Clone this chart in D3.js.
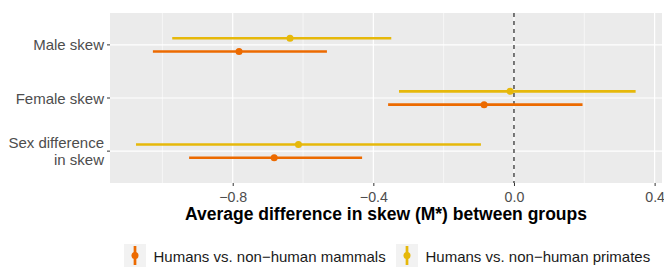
<!DOCTYPE html>
<html>
<head>
<meta charset="utf-8">
<script src="https://d3js.org/d3.v7.min.js"></script>
<style>
  body { margin: 0; background: #fff; }
  svg { font-family: "Liberation Sans", Arial, sans-serif; }
</style>
</head>
<body>
<div id="chart"></div>
<script>
// categories, top to bottom
const categories = ["Male skew", "Female skew", "Sex difference\nin skew"];
const groups = ["Humans vs. non\u2212human mammals", "Humans vs. non\u2212human primates"];
const groupColors = ["#ec6a00", "#e6b80a"];

// estimate, lower, upper for each category
const mammalsEst = [-0.782, -0.085, -0.682];
const mammalsLo = [-1.027, -0.358, -0.924];
const mammalsHi = [-0.532, 0.195, -0.432];

const primatesEst = [-0.637, -0.011, -0.613];
const primatesLo = [-0.972, -0.327, -1.075];
const primatesHi = [-0.349, 0.346, -0.094];

const xTicks = [-0.8, -0.4, 0.0, 0.4];
const xMinor = [-1.0, -0.6, -0.2, 0.2];

const width = 664, height = 267;
const panel = { left: 110, right: 662, top: 13, bottom: 183 };

const svg = d3.select("#chart").append("svg")
  .attr("width", width).attr("height", height);

const x = d3.scaleLinear().domain([-1.149, 0.421]).range([panel.left, panel.right]);
// ggplot-style discrete scale with 0.6 expansion
const y = d3.scaleLinear().domain([0.4, 3.6]).range([panel.top, panel.bottom]);
const dodge = 0.125;

svg.append("rect")
  .attr("x", panel.left).attr("y", panel.top)
  .attr("width", panel.right - panel.left).attr("height", panel.bottom - panel.top)
  .attr("fill", "#ebebeb");

// gridlines
svg.selectAll(".minor").data(xMinor).enter().append("line")
  .attr("x1", d => x(d)).attr("x2", d => x(d))
  .attr("y1", panel.top).attr("y2", panel.bottom)
  .attr("stroke", "#fff").attr("stroke-width", 0.6);
svg.selectAll(".major").data(xTicks).enter().append("line")
  .attr("x1", d => x(d)).attr("x2", d => x(d))
  .attr("y1", panel.top).attr("y2", panel.bottom)
  .attr("stroke", "#fff").attr("stroke-width", 1.2);
svg.selectAll(".hgrid").data(categories).enter().append("line")
  .attr("x1", panel.left).attr("x2", panel.right)
  .attr("y1", (d, i) => y(i + 1)).attr("y2", (d, i) => y(i + 1))
  .attr("stroke", "#fff").attr("stroke-width", 1.2);

// zero reference
svg.append("line")
  .attr("x1", x(0)).attr("x2", x(0))
  .attr("y1", panel.top).attr("y2", panel.bottom)
  .attr("stroke", "#222").attr("stroke-width", 1.2)
  .attr("stroke-dasharray", "4,4");

// series
const series = [
  { name: groups[0], color: groupColors[0], est: mammalsEst, lo: mammalsLo, hi: mammalsHi, off: dodge },
  { name: groups[1], color: groupColors[1], est: primatesEst, lo: primatesLo, hi: primatesHi, off: -dodge }
];

series.forEach(s => {
  const g = svg.append("g");
  const rows = categories.map((c, i) => ({ i, est: s.est[i], lo: s.lo[i], hi: s.hi[i] }));
  g.selectAll("line").data(rows).enter().append("line")
    .attr("x1", d => x(d.lo)).attr("x2", d => x(d.hi))
    .attr("y1", d => y(d.i + 1 + s.off)).attr("y2", d => y(d.i + 1 + s.off))
    .attr("stroke", s.color).attr("stroke-width", 2.7);
  g.selectAll("circle").data(rows).enter().append("circle")
    .attr("cx", d => x(d.est)).attr("cy", d => y(d.i + 1 + s.off))
    .attr("r", 3.5).attr("fill", s.color);
});

// y axis
const yAxis = svg.append("g");
categories.forEach((c, i) => {
  const yy = y(i + 1);
  yAxis.append("line")
    .attr("x1", panel.left - 3).attr("x2", panel.left)
    .attr("y1", yy).attr("y2", yy)
    .attr("stroke", "#333").attr("stroke-width", 1);
  const lines = c.split("\n");
  lines.forEach((ln, k) => {
    yAxis.append("text")
      .attr("text-anchor", "end")
      .attr("font-size", 15)
      .attr("fill", "#4d4d4d")
      .attr("x", panel.left - 6)
      .attr("y", yy + 5.5 + (k - (lines.length - 1) / 2) * 16.5)
      .text(ln);
  });
});

// x axis
const xAxis = svg.append("g").attr("transform", `translate(0,${panel.bottom})`)
  .call(d3.axisBottom(x).tickValues(xTicks).tickSize(3).tickPadding(5.5)
    .tickFormat(d => d3.format(".1f")(d).replace("-", "\u2212")));
xAxis.select(".domain").remove();
xAxis.selectAll("line").attr("stroke", "#333");
xAxis.selectAll("text").attr("font-size", 14.2).attr("fill", "#4d4d4d")
  .attr("font-family", "Liberation Sans, Arial, sans-serif");

svg.append("text")
  .attr("x", (panel.left + panel.right) / 2).attr("y", 219.5)
  .attr("text-anchor", "middle")
  .attr("font-size", 17.5).attr("font-weight", "bold").attr("fill", "#000")
  .text("Average difference in skew (M*) between groups");

// legend
const legendX = [124, 396];
series.forEach((s, i) => {
  const lg = svg.append("g").attr("transform", `translate(${legendX[i]},244)`);
  lg.append("rect").attr("width", 22).attr("height", 23).attr("fill", "#f2f2f2");
  lg.append("line").attr("x1", 11).attr("x2", 11).attr("y1", 2).attr("y2", 21)
    .attr("stroke", s.color).attr("stroke-width", 2.7);
  lg.append("circle").attr("cx", 11).attr("cy", 11.5).attr("r", 3.5).attr("fill", s.color);
  lg.append("text").attr("x", 29.5).attr("y", 18)
    .attr("font-size", 15).attr("fill", "#1a1a1a")
    .text(s.name);
});
</script>
</body>
</html>
